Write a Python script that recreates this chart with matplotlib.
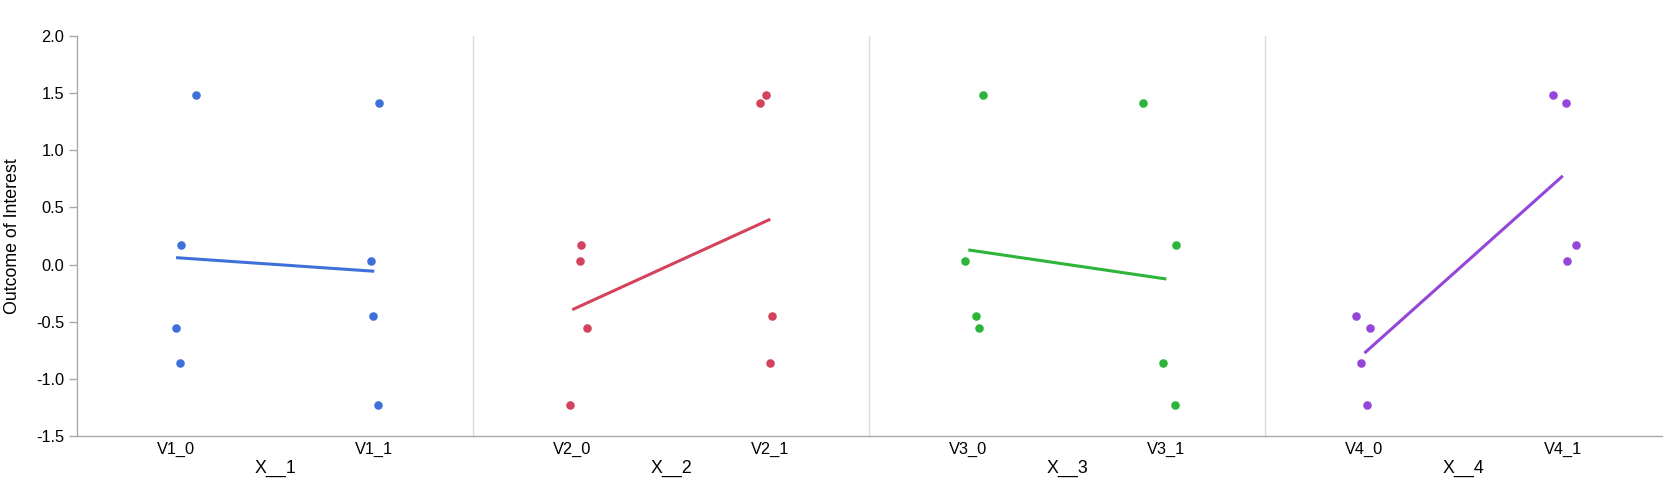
import numpy as np
import matplotlib
matplotlib.use("Agg")
import matplotlib.pyplot as plt

plt.rcParams['font.family'] = ['Liberation Sans', 'DejaVu Sans']

# ---- data ----
outcome = [1.487, 1.411, 0.174, 0.034, -0.450, -0.558, -0.861, -1.229]
panel_titles = ["X__1", "X__2", "X__3", "X__4"]
tick_labels = [["V1_0", "V1_1"], ["V2_0", "V2_1"], ["V3_0", "V3_1"], ["V4_0", "V4_1"]]
groups_x1 = [0, 1, 0, 1, 1, 0, 0, 1]
groups_x2 = [1, 1, 0, 0, 1, 0, 1, 0]
groups_x3 = [0, 1, 1, 0, 0, 0, 1, 1]
groups_x4 = [1, 1, 1, 1, 0, 0, 0, 0]
# horizontal jitter (category units)
jitter_x1 = [0.101, 0.024, 0.025, -0.014, -0.005, 0.000, 0.019, 0.020]
jitter_x2 = [-0.024, -0.051, 0.042, 0.037, 0.010, 0.074, -0.004, -0.012]
jitter_x3 = [0.072, -0.120, 0.047, -0.017, 0.040, 0.052, -0.017, 0.042]
jitter_x4 = [-0.049, 0.015, 0.067, 0.022, -0.042, 0.027, -0.020, 0.014]
colors = ["#3f6fd9", "#d3435b", "#2db43a", "#9446da"]

groups = [groups_x1, groups_x2, groups_x3, groups_x4]
jitters = [jitter_x1, jitter_x2, jitter_x3, jitter_x4]

W, H = 1674, 487
fig = plt.figure(figsize=(W / 100, H / 100), dpi=100)

edges = [77.0, 473.3, 869.3, 1265.3, 1662.0]
top, bottom = 36.0, 436.0
axis_gray = "#aaaaaa"
light = "#dddddd"
fs_tick = 11.8
fs_title = 12.8

y = np.array(outcome)
for i in range(4):
    l, r = edges[i], edges[i + 1]
    ax = fig.add_axes([l / W, 1 - bottom / H, (r - l) / W, (bottom - top) / H])
    g = np.array(groups[i])
    xj = g + np.array(jitters[i])
    ax.scatter(xj, y, s=38, color=colors[i], linewidths=0, zorder=3)
    coef = np.polyfit(g, y, 1)
    xs = np.array([0.0, 1.0])
    ax.plot(xs, np.polyval(coef, xs), color=colors[i], lw=2.2, solid_capstyle='butt', zorder=2)

    ax.set_xlim(-0.5, 1.5)
    ax.set_ylim(-1.5, 2.0)
    ax.set_xticks([0, 1])
    ax.set_xticklabels(tick_labels[i], fontsize=fs_tick)
    ax.tick_params(axis='x', length=0, pad=4)
    ax.set_xlabel(panel_titles[i], fontsize=fs_title, labelpad=2)
    ax.spines['top'].set_visible(False)
    ax.spines['right'].set_visible(False)
    ax.spines['bottom'].set_color(axis_gray)
    ax.spines['bottom'].set_linewidth(1.0)
    if i == 0:
        ax.spines['left'].set_color(axis_gray)
        ax.set_yticks(np.arange(-1.5, 2.01, 0.5))
        ax.set_yticklabels([f"{v:.1f}" for v in np.arange(-1.5, 2.01, 0.5)], fontsize=fs_tick)
        ax.tick_params(axis='y', length=6, width=1, color=axis_gray, pad=3)
    else:
        ax.spines['left'].set_color(light)
        ax.set_yticks([])
    ax.spines['left'].set_linewidth(1.0)
    ax.patch.set_alpha(0)

fig.text(13 / W, 1 - 236 / H, "Outcome of Interest", rotation=90, ha='center', va='center', fontsize=fs_title)

fig.savefig("out.png", dpi=100)
